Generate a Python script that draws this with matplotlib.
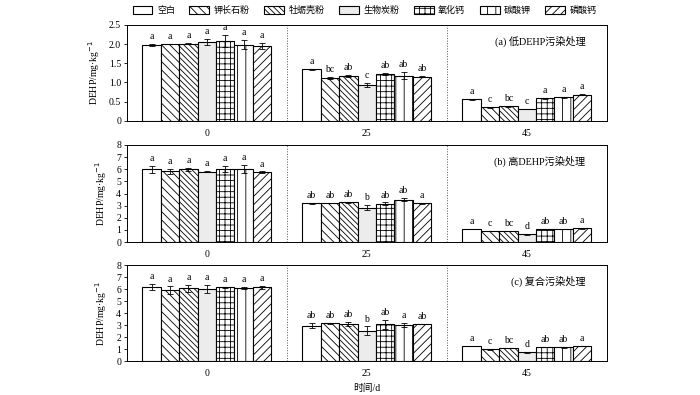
import numpy as np
import matplotlib
matplotlib.use('Agg')
import matplotlib.pyplot as plt
from matplotlib.patches import Patch

plt.rcParams['font.family'] = ['Liberation Serif', 'Noto Sans CJK SC']
plt.rcParams['font.size'] = 7
plt.rcParams['hatch.linewidth'] = 0.6

# treatments (legend)
treat = ['空白', '钾长石粉', '牡蛎壳粉', '生物炭粉', '氧化钙', '碳酸钾', '磷酸钙']
days = ['0', '25', '45']
panel_titles = ['(a) 低DEHP污染处理', '(b) 高DEHP污染处理', '(c) 复合污染处理']

# panel a: low DEHP, rows = day, cols = treatment
a_val = [[1.98, 2.00, 2.01, 2.05, 2.08, 1.98, 1.95],
         [1.34, 1.12, 1.17, 0.93, 1.22, 1.18, 1.15],
         [0.56, 0.35, 0.38, 0.31, 0.59, 0.61, 0.68]]
a_err = [[0.02, 0.01, 0.01, 0.08, 0.15, 0.12, 0.07],
         [0.02, 0.02, 0.02, 0.06, 0.02, 0.10, 0.01],
         [0.01, 0.01, 0.02, 0.01, 0.01, 0.02, 0.01]]
a_let = [['a'] * 7,
         ['a', 'bc', 'ab', 'c', 'ab', 'ab', 'ab'],
         ['a', 'c', 'bc', 'c', 'a', 'a', 'a']]

# panel b: high DEHP
b_val = [[5.99, 5.82, 5.99, 5.79, 6.01, 6.04, 5.77],
         [3.20, 3.23, 3.28, 2.84, 3.17, 3.50, 3.20],
         [1.08, 0.91, 0.91, 0.63, 1.08, 1.08, 1.13]]
b_err = [[0.30, 0.20, 0.10, 0.05, 0.25, 0.35, 0.05],
         [0.03, 0.03, 0.02, 0.20, 0.10, 0.10, 0.05],
         [0.03, 0.02, 0.01, 0.02, 0.02, 0.02, 0.03]]
b_let = [['a'] * 7,
         ['ab', 'ab', 'ab', 'b', 'ab', 'ab', 'a'],
         ['a', 'c', 'bc', 'd', 'ab', 'ab', 'a']]

# panel c: combined pollution
c_val = [[6.15, 5.92, 6.05, 6.00, 6.15, 6.10, 6.15],
         [2.94, 3.14, 3.08, 2.53, 3.05, 3.00, 3.08],
         [1.25, 0.97, 1.08, 0.72, 1.19, 1.14, 1.25]]
c_err = [[0.25, 0.30, 0.30, 0.35, 0.05, 0.10, 0.12],
         [0.20, 0.03, 0.20, 0.35, 0.35, 0.15, 0.03],
         [0.01, 0.01, 0.02, 0.01, 0.02, 0.02, 0.01]]
c_let = [['a'] * 7,
         ['ab', 'ab', 'ab', 'b', 'ab', 'a', 'ab'],
         ['a', 'c', 'bc', 'd', 'ab', 'ab', 'a']]

hatches = ['', '\\' * 4, '\\' * 6, '', '+' * 3, '|' * 2, '/' * 4]
fills = ['white', 'white', 'white', '#ececec', 'white', 'white', 'white']

fig = plt.figure(figsize=(7, 3.95), dpi=100)
pos = [[0.181, 0.694, 0.686, 0.243],
       [0.181, 0.387, 0.686, 0.246],
       [0.181, 0.086, 0.686, 0.243]]
ylims = [(0, 2.5), (0, 8), (0, 8)]
yticks = [[0, 0.5, 1.0, 1.5, 2.0, 2.5], range(9), range(9)]
ytl = [['0', '0.5', '1.0', '1.5', '2.0', '2.5'],
       [str(i) for i in range(9)], [str(i) for i in range(9)]]
data = [(a_val, a_err, a_let), (b_val, b_err, b_let), (c_val, c_err, c_let)]

w = 0.115
x = np.arange(3)
for p in range(3):
    ax = fig.add_axes(pos[p])
    val, err, let = data[p]
    val = np.array(val)
    err = np.array(err)
    for j in range(7):
        xs = x + (j - 3) * w
        ax.bar(xs, val[:, j], w, color=fills[j], edgecolor='black',
               hatch=hatches[j], linewidth=0.8)
        ax.errorbar(xs, val[:, j], yerr=err[:, j], fmt='none', ecolor='black',
                    elinewidth=0.6, capsize=2, capthick=0.6)
        for i in range(3):
            ax.text(xs[i], val[i, j] + err[i, j] + ylims[p][1] * 0.03, let[i][j],
                    ha='center', va='bottom', fontsize=7)
    ax.axvline(0.5, color='#555555', ls=':', lw=0.7)
    ax.axvline(1.5, color='#555555', ls=':', lw=0.7)
    ax.set_xlim(-0.5, 2.5)
    ax.set_ylim(ylims[p])
    ax.set_yticks(yticks[p])
    ax.set_yticklabels(ytl[p])
    ax.set_xticks(x)
    ax.set_xticklabels(days)
    ax.tick_params(axis='x', length=0, pad=6, labelsize=7)
    ax.tick_params(axis='y', length=2, width=0.6, pad=2, labelsize=7)
    for s in ax.spines.values():
        s.set_linewidth(0.7)
    ax.set_ylabel('DEHP/mg·kg$^{-1}$', fontsize=7, labelpad=5)
    ax.text(0.955, 0.83, panel_titles[p], transform=ax.transAxes,
            ha='right', va='center', fontsize=7.3)
    if p == 2:
        ax.set_xlabel('时间/d', fontsize=7, labelpad=4)

handles = [Patch(facecolor=fills[j], edgecolor='black', hatch=hatches[j],
                 linewidth=0.8, label=treat[j]) for j in range(7)]
fig.legend(handles=handles, loc='center', bbox_to_anchor=(0.521, 0.973), ncol=7,
           frameon=False, fontsize=6.5, handlelength=2.2, handleheight=0.9,
           handletextpad=0.5, columnspacing=1.6)

fig.savefig('out.png', dpi=100)
